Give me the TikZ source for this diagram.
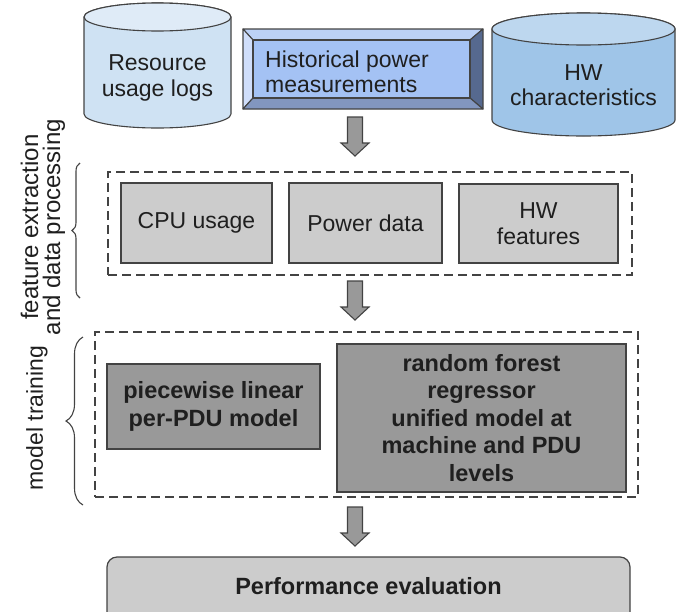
\documentclass[tikz,border=0pt]{standalone}
\usepackage{fontspec}
\setmainfont{Liberation Sans}
\usetikzlibrary{decorations.pathreplacing}
\definecolor{edge}{HTML}{434343}
\definecolor{txtc}{HTML}{1F1F1F}
\definecolor{lightgray}{HTML}{CCCCCC}
\definecolor{midgray}{HTML}{999999}
\definecolor{cylA}{HTML}{CFE2F3}
\definecolor{cylAtop}{HTML}{DFEBF7}
\definecolor{cylB}{HTML}{9FC5E8}
\definecolor{cylBtop}{HTML}{BDD7EF}
\definecolor{bevIn}{HTML}{A4C2F4}
\definecolor{bevTop}{HTML}{BCD1F6}
\definecolor{bevLeft}{HTML}{D0DEFA}
\definecolor{bevRight}{HTML}{56698F}
\definecolor{bevBot}{HTML}{8296BF}
\tikzset{
  txt/.style={font=\fontsize{23}{25.5}\selectfont, align=center, text=txtc, inner sep=0pt},
  btxt/.style={font=\bfseries\fontsize{23.5}{27.5}\selectfont, align=center, text=txtc, inner sep=0pt},
  graybox/.style={draw=edge, fill=lightgray, line width=1.2pt, inner sep=0pt},
  darkbox/.style={draw=edge, fill=midgray, line width=1.2pt, inner sep=0pt},
  dashbox/.style={draw=edge, dash pattern=on 9pt off 5pt, line width=1.1pt, inner sep=0pt},
  outl/.style={draw=edge, line width=1.1pt, line join=round},
  bracestyle/.style={draw=edge, line width=1.1pt, decorate},
  barrow/.pic={
    \draw[draw=edge, fill=midgray, line width=1.1pt, line join=miter]
      (-7.5,0) -- (7.5,0) -- (7.5,26) -- (14,26) -- (0,39) -- (-14,26) -- (-7.5,26) -- cycle;
  }
}
\begin{document}
\begin{tikzpicture}[x=1pt,y=-1pt]
\useasboundingbox (0,0) rectangle (696,611);
\clip (0,0) rectangle (696,611);

% cylinder: Resource usage logs
\path[outl, fill=cylA] (84,17) -- (84,114) arc[start angle=180, end angle=0, x radius=73.5, y radius=14]
  -- (231,17) arc[start angle=0, end angle=-180, x radius=73.5, y radius=14] -- cycle;
\path[outl, fill=cylAtop] (157.5,17) ellipse[x radius=73.5, y radius=14];
\node[txt] (res) at (157.5,78) {Resource\\usage logs};

% cylinder: HW characteristics
\path[outl, fill=cylB] (492,29) -- (492,120) arc[start angle=180, end angle=0, x radius=91.5, y radius=16]
  -- (675,29) arc[start angle=0, end angle=-180, x radius=91.5, y radius=16] -- cycle;
\path[outl, fill=cylBtop] (583.5,29) ellipse[x radius=91.5, y radius=16];
\node[txt] (hwc) at (583.5,85) {HW\\characteristics};

% bevel box: Historical power measurements
\path[outl, fill=bevTop] (243,29) -- (483,29) -- (470,40) -- (253,40) -- cycle;
\path[outl, fill=bevLeft] (243,29) -- (253,40) -- (253,98) -- (243,109) -- cycle;
\path[outl, fill=bevRight] (483,29) -- (483,109) -- (470,98) -- (470,40) -- cycle;
\path[outl, fill=bevBot] (243,109) -- (483,109) -- (470,98) -- (253,98) -- cycle;
\path[outl, fill=bevIn] (253,40) rectangle (470,98);
\node[txt, align=left, anchor=west] (hist) at (265,72) {Historical power\\measurements};

% feature extraction stage
\node[dashbox, minimum width=524, minimum height=103] (fe) at (370,223.5) {};
\node[graybox, minimum width=151, minimum height=80, txt] (cpu) at (196.5,223) {CPU usage};
\node[graybox, minimum width=153, minimum height=80, txt] (pow) at (365.5,223) {Power data};
\node[graybox, minimum width=159, minimum height=79, txt] (hwf) at (538.5,223.5) {HW\\features};

% model training stage
\node[dashbox, minimum width=543, minimum height=165] (mt) at (366.5,414.5) {};
\node[darkbox, minimum width=213, minimum height=85, btxt] (pw) at (213.5,406.5) {piecewise linear\\per-PDU model};
\node[darkbox, minimum width=289, minimum height=148, btxt] (rf) at (481.5,418) {random forest\\regressor\\unified model at\\machine and PDU\\levels};

% performance evaluation
\node[graybox, rounded corners=10pt, minimum width=523, minimum height=90] (perf) at (368.5,602) {};
\node[btxt] (perft) at (368.5,586) {Performance evaluation};

% block arrows
\pic at (355,117) {barrow};
\pic at (355,281) {barrow};
\pic at (355,507) {barrow};

% braces and side labels
\draw[bracestyle, decoration={brace, amplitude=8pt}] (80,298) -- (80,163);
\node[txt, rotate=90, font=\fontsize{24}{22}\selectfont] (fel) at (43,227) {feature extraction\\and data processing};
\draw[bracestyle, decoration={brace, amplitude=17pt}] (83,505) -- (83,337);
\node[txt, rotate=90] (mtl) at (37,418) {model training};
\end{tikzpicture}
\end{document}
